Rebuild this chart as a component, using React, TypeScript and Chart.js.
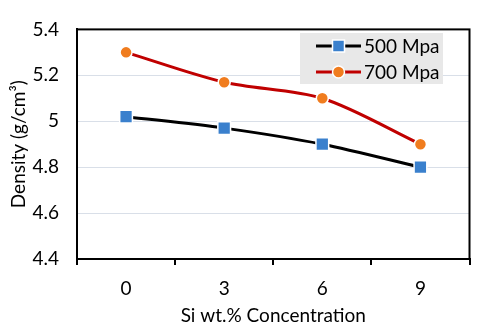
import React, { useEffect, useRef } from "react";
import { Chart, registerables } from "chart.js";

Chart.register(...registerables);

const categories = ["0", "3", "6", "9"];
const series500 = [5.02, 4.97, 4.9, 4.8];
const series700 = [5.3, 5.17, 5.1, 4.9];
const seriesNames = ["500 Mpa", "700 Mpa"];
const yMin = 4.4;
const yMax = 5.4;
const yStep = 0.2;

const FONT = "Lato, 'Open Sans', sans-serif";
const FS = 19;

const framePlugin = {
  id: "frameAndLegend",
  afterDatasetsDraw(chart: any) {
    const { ctx, chartArea } = chart;
    ctx.save();
    ctx.strokeStyle = "#000";
    ctx.lineWidth = 2;
    ctx.strokeRect(chartArea.left, chartArea.top, chartArea.right - chartArea.left, chartArea.bottom - chartArea.top);
    // legend box
    const bx = 300, by = 33, bw = 143, bh = 51;
    ctx.fillStyle = "#e8e8e8";
    ctx.fillRect(bx, by, bw, bh);
    chart.data.datasets.forEach((ds: any, i: number) => {
      const cy = by + 13 + i * 26;
      ctx.strokeStyle = ds.borderColor;
      ctx.lineWidth = 3;
      ctx.beginPath();
      ctx.moveTo(316, cy);
      ctx.lineTo(361, cy);
      ctx.stroke();
      ctx.fillStyle = ds.pointBackgroundColor;
      ctx.strokeStyle = "#fff";
      ctx.lineWidth = 1.5;
      ctx.beginPath();
      if (ds.pointStyle === "rect") {
        ctx.rect(338.5 - 6, cy - 6, 12, 12);
      } else {
        ctx.arc(338.5, cy, 6, 0, Math.PI * 2);
      }
      ctx.fill();
      ctx.stroke();
      ctx.fillStyle = "#000";
      ctx.font = `${FS}px ${FONT}`;
      ctx.textBaseline = "middle";
      ctx.textAlign = "left";
      ctx.fillText(ds.label, 364, cy + 1);
    });
    ctx.restore();
  },
};

export default function App() {
  const ref = useRef<HTMLCanvasElement>(null);
  useEffect(() => {
    document.body.style.margin = "0";
    const chart = new Chart(ref.current!, {
      type: "line",
      data: {
        labels: categories,
        datasets: [
          {
            label: seriesNames[0],
            data: series500,
            borderColor: "#000000",
            borderWidth: 3,
            pointStyle: "rect",
            pointRadius: 9,
            pointBackgroundColor: "#3a80cd",
            pointBorderColor: "#ffffff",
            pointBorderWidth: 1.5,
            tension: 0.3,
          },
          {
            label: seriesNames[1],
            data: series700,
            borderColor: "#c00000",
            borderWidth: 3,
            pointStyle: "circle",
            pointRadius: 6,
            pointBackgroundColor: "#f07c1e",
            pointBorderColor: "#ffffff",
            pointBorderWidth: 1.5,
            tension: 0.3,
          },
        ],
      } as any,
      options: {
        animation: false,
        responsive: false,
        maintainAspectRatio: false,
        layout: { padding: { top: 26, right: 10, left: 0, bottom: 0 } },
        plugins: { legend: { display: false }, tooltip: { enabled: false } },
        scales: {
          x: {
            type: "category",
            offset: true,
            afterFit: (s: any) => { s.height = 72; },
            grid: {
              offset: true,
              drawOnChartArea: false,
              drawTicks: true,
              tickLength: 6,
              color: "#000",
              lineWidth: 2,
            },
            border: { color: "#000", width: 2 },
            ticks: { color: "#000", font: { family: FONT, size: FS }, padding: 12 },
            title: {
              display: true,
              text: "Si wt.% Concentration",
              color: "#000",
              font: { family: FONT, size: FS },
              padding: { top: 0, bottom: 4 },
            },
          },
          y: {
            min: yMin,
            max: yMax,
            afterFit: (s: any) => { s.width = 77; },
            grid: { color: "#d9dfe8", lineWidth: 1, drawTicks: false },
            border: { color: "#000", width: 2 },
            ticks: {
              stepSize: yStep,
              color: "#000",
              font: { family: FONT, size: FS },
              padding: 18,
              callback: (v: any) => String(Number(Number(v).toFixed(1))),
            },
            title: {
              display: true,
              text: "Density (g/cm³)",
              color: "#000",
              font: { family: FONT, size: FS },
              padding: { top: 7, bottom: 0 },
            },
          },
        },
      } as any,
      plugins: [framePlugin],
    });
    return () => chart.destroy();
  }, []);
  return (
    <div style={{ width: 480, height: 331, background: "#fff" }}>
      <canvas ref={ref} width={480} height={331} style={{ display: "block" }} />
    </div>
  );
}
